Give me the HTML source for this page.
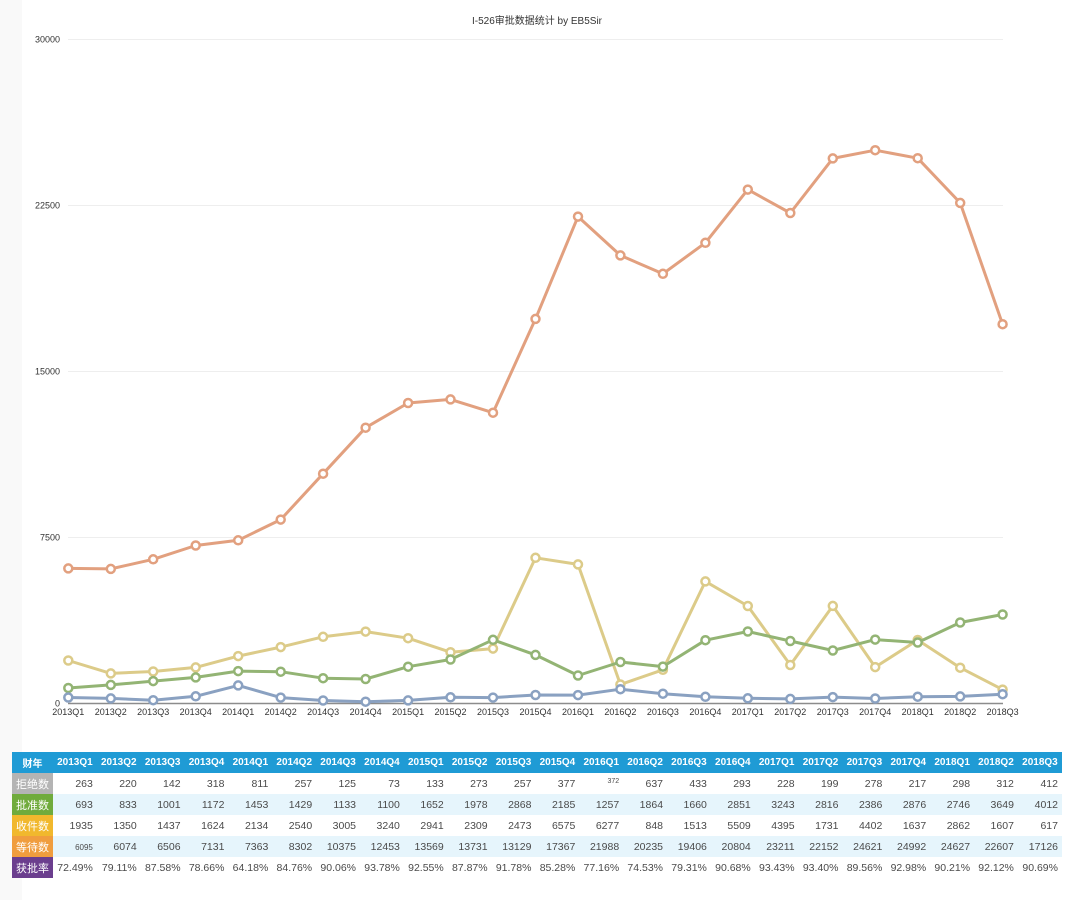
<!DOCTYPE html>
<html><head><meta charset="utf-8"><style>
html,body{margin:0;padding:0;background:#fff;}
body{width:1080px;height:900px;position:relative;overflow:hidden;font-family:"Liberation Sans","Noto Sans CJK SC",sans-serif;}
.strip{position:absolute;left:0;top:0;width:22px;height:900px;background:#f9f9f9;}
svg{position:absolute;left:0;top:0;}
table{position:absolute;left:12px;top:752px;width:1050px;border-collapse:collapse;table-layout:fixed;font-size:10.5px;}
td,th{padding:0 4px 0 0;height:21px;text-align:right;color:#4a4a4a;white-space:nowrap;overflow:hidden;font-weight:normal;}
thead th{background:#1f9bd5;color:#fff;font-weight:bold;text-align:center;padding:0;font-size:10px;}
td.l{color:#fff;text-align:center;padding:0;font-size:11px;}
tr.b td{background:#e6f5fc;}
.sm{font-size:8px;}
.sup{font-size:7px;vertical-align:4px;}
</style></head><body>
<div class="strip"></div>
<svg width="1080" height="750" viewBox="0 0 1080 750" font-family="Liberation Sans, Noto Sans CJK SC, sans-serif">
<defs>
<marker id="mo" markerUnits="userSpaceOnUse" markerWidth="14" markerHeight="14" refX="7" refY="7"><circle cx="7" cy="7" r="4" fill="#fff" stroke="#e2a07f" stroke-width="2.5"/></marker>
<marker id="my" markerUnits="userSpaceOnUse" markerWidth="14" markerHeight="14" refX="7" refY="7"><circle cx="7" cy="7" r="4" fill="#fff" stroke="#dccb89" stroke-width="2.5"/></marker>
<marker id="mg" markerUnits="userSpaceOnUse" markerWidth="14" markerHeight="14" refX="7" refY="7"><circle cx="7" cy="7" r="4" fill="#fff" stroke="#93b474" stroke-width="2.5"/></marker>
<marker id="mb" markerUnits="userSpaceOnUse" markerWidth="14" markerHeight="14" refX="7" refY="7"><circle cx="7" cy="7" r="4" fill="#fff" stroke="#8aa1c1" stroke-width="2.5"/></marker>
</defs>
<text x="537" y="24" font-size="10" fill="#333" text-anchor="middle">I-526审批数据统计 by EB5Sir</text>
<g stroke="#eeeeee" stroke-width="1">
<line x1="68" y1="39.5" x2="1003" y2="39.5"/>
<line x1="68" y1="205.5" x2="1003" y2="205.5"/>
<line x1="68" y1="371.5" x2="1003" y2="371.5"/>
<line x1="68" y1="537.5" x2="1003" y2="537.5"/>
</g>
<g font-size="9" fill="#333" text-anchor="end">
<text x="60" y="42.5">30000</text>
<text x="60" y="208.5">22500</text>
<text x="60" y="374.5">15000</text>
<text x="60" y="540.5">7500</text>
<text x="60" y="706.5">0</text>
</g>
<line x1="68" y1="703.5" x2="1003" y2="703.5" stroke="#8c8c8c" stroke-width="1.5"/>
<g font-size="9" fill="#333" text-anchor="middle">
<text x="68.3" y="715">2013Q1</text><text x="110.8" y="715">2013Q2</text><text x="153.2" y="715">2013Q3</text><text x="195.7" y="715">2013Q4</text>
<text x="238.2" y="715">2014Q1</text><text x="280.7" y="715">2014Q2</text><text x="323.1" y="715">2014Q3</text><text x="365.6" y="715">2014Q4</text>
<text x="408.1" y="715">2015Q1</text><text x="450.5" y="715">2015Q2</text><text x="493.0" y="715">2015Q3</text><text x="535.5" y="715">2015Q4</text>
<text x="578.0" y="715">2016Q1</text><text x="620.4" y="715">2016Q2</text><text x="662.9" y="715">2016Q3</text><text x="705.4" y="715">2016Q4</text>
<text x="747.8" y="715">2017Q1</text><text x="790.3" y="715">2017Q2</text><text x="832.8" y="715">2017Q3</text><text x="875.2" y="715">2017Q4</text>
<text x="917.7" y="715">2018Q1</text><text x="960.2" y="715">2018Q2</text><text x="1002.6" y="715">2018Q3</text>
</g>
<g fill="none" stroke-width="3" stroke-linejoin="round">
<polyline stroke="#e2a07f" marker-start="url(#mo)" marker-mid="url(#mo)" marker-end="url(#mo)" points="68.3,568.4 110.8,568.9 153.2,559.3 195.7,545.5 238.2,540.3 280.7,519.6 323.1,473.7 365.6,427.7 408.1,403.0 450.5,399.4 493.0,412.7 535.5,318.9 578.0,216.6 620.4,255.4 662.9,273.8 705.4,242.8 747.8,189.6 790.3,213.0 832.8,158.4 875.2,150.2 917.7,158.2 960.2,202.9 1002.6,324.2"/>
<polyline stroke="#dccb89" marker-start="url(#my)" marker-mid="url(#my)" marker-end="url(#my)" points="68.3,660.5 110.8,673.4 153.2,671.5 195.7,667.4 238.2,656.1 280.7,647.1 323.1,636.8 365.6,631.6 408.1,638.2 450.5,652.2 493.0,648.6 535.5,557.8 578.0,564.4 620.4,684.5 662.9,669.8 705.4,581.4 747.8,606.0 790.3,665.0 832.8,605.9 875.2,667.1 917.7,640.0 960.2,667.7 1002.6,689.6"/>
<polyline stroke="#93b474" marker-start="url(#mg)" marker-mid="url(#mg)" marker-end="url(#mg)" points="68.3,688.0 110.8,684.9 153.2,681.1 195.7,677.4 238.2,671.1 280.7,671.7 323.1,678.2 365.6,679.0 408.1,666.7 450.5,659.5 493.0,639.8 535.5,654.9 578.0,675.5 620.4,662.0 662.9,666.6 705.4,640.2 747.8,631.5 790.3,641.0 832.8,650.5 875.2,639.6 917.7,642.5 960.2,622.5 1002.6,614.5"/>
<polyline stroke="#8aa1c1" marker-start="url(#mb)" marker-mid="url(#mb)" marker-end="url(#mb)" points="68.3,697.5 110.8,698.4 153.2,700.2 195.7,696.3 238.2,685.4 280.7,697.6 323.1,700.5 365.6,701.7 408.1,700.4 450.5,697.3 493.0,697.6 535.5,695.0 578.0,695.1 620.4,689.2 662.9,693.7 705.4,696.8 747.8,698.3 790.3,698.9 832.8,697.1 875.2,698.5 917.7,696.7 960.2,696.4 1002.6,694.2"/>
</g>
</svg>
<table>
<colgroup><col style="width:41px"><col span="23"></colgroup>
<thead><tr><th>财年</th><th>2013Q1</th><th>2013Q2</th><th>2013Q3</th><th>2013Q4</th><th>2014Q1</th><th>2014Q2</th><th>2014Q3</th><th>2014Q4</th><th>2015Q1</th><th>2015Q2</th><th>2015Q3</th><th>2015Q4</th><th>2016Q1</th><th>2016Q2</th><th>2016Q3</th><th>2016Q4</th><th>2017Q1</th><th>2017Q2</th><th>2017Q3</th><th>2017Q4</th><th>2018Q1</th><th>2018Q2</th><th>2018Q3</th></tr></thead>
<tbody>
<tr><td class="l" style="background:#b4b4b4">拒绝数</td><td>263</td><td>220</td><td>142</td><td>318</td><td>811</td><td>257</td><td>125</td><td>73</td><td>133</td><td>273</td><td>257</td><td>377</td><td><span class="sup">372</span></td><td>637</td><td>433</td><td>293</td><td>228</td><td>199</td><td>278</td><td>217</td><td>298</td><td>312</td><td>412</td></tr>
<tr class="b"><td class="l" style="background:#70ab3c">批准数</td><td>693</td><td>833</td><td>1001</td><td>1172</td><td>1453</td><td>1429</td><td>1133</td><td>1100</td><td>1652</td><td>1978</td><td>2868</td><td>2185</td><td>1257</td><td>1864</td><td>1660</td><td>2851</td><td>3243</td><td>2816</td><td>2386</td><td>2876</td><td>2746</td><td>3649</td><td>4012</td></tr>
<tr><td class="l" style="background:#f1b82d">收件数</td><td>1935</td><td>1350</td><td>1437</td><td>1624</td><td>2134</td><td>2540</td><td>3005</td><td>3240</td><td>2941</td><td>2309</td><td>2473</td><td>6575</td><td>6277</td><td>848</td><td>1513</td><td>5509</td><td>4395</td><td>1731</td><td>4402</td><td>1637</td><td>2862</td><td>1607</td><td>617</td></tr>
<tr class="b"><td class="l" style="background:#f09d3e">等待数</td><td><span class="sm">6095</span></td><td>6074</td><td>6506</td><td>7131</td><td>7363</td><td>8302</td><td>10375</td><td>12453</td><td>13569</td><td>13731</td><td>13129</td><td>17367</td><td>21988</td><td>20235</td><td>19406</td><td>20804</td><td>23211</td><td>22152</td><td>24621</td><td>24992</td><td>24627</td><td>22607</td><td>17126</td></tr>
<tr><td class="l" style="background:#6b3e8e">获批率</td><td>72.49%</td><td>79.11%</td><td>87.58%</td><td>78.66%</td><td>64.18%</td><td>84.76%</td><td>90.06%</td><td>93.78%</td><td>92.55%</td><td>87.87%</td><td>91.78%</td><td>85.28%</td><td>77.16%</td><td>74.53%</td><td>79.31%</td><td>90.68%</td><td>93.43%</td><td>93.40%</td><td>89.56%</td><td>92.98%</td><td>90.21%</td><td>92.12%</td><td>90.69%</td></tr>
</tbody>
</table>
</body></html>
